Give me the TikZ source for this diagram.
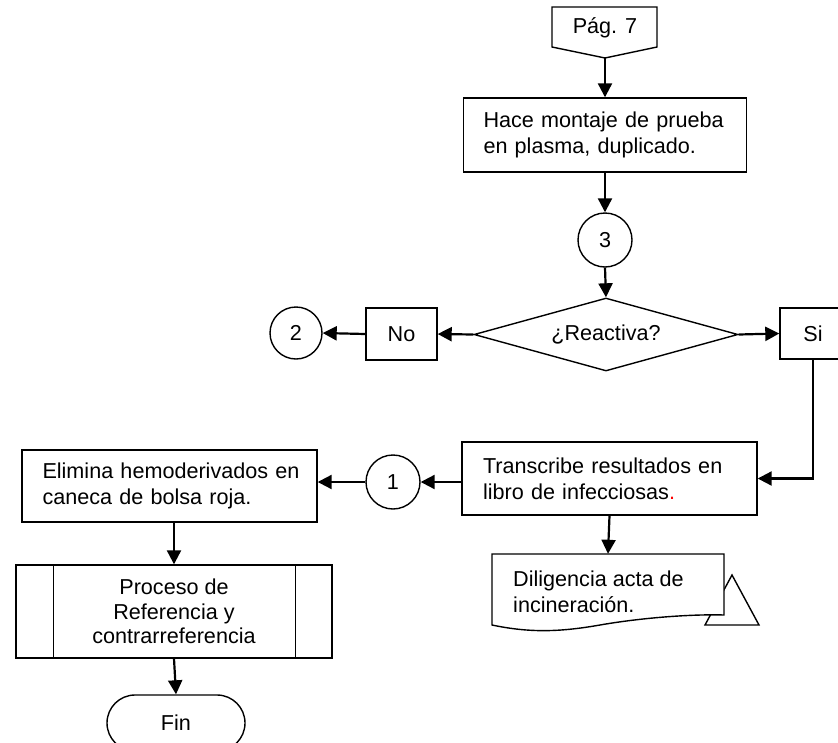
\documentclass[tikz,border=0pt]{standalone}
\usepackage{fontspec}
\setmainfont{Liberation Sans}
\usetikzlibrary{arrows.meta,shapes.geometric,shapes.misc}
\begin{document}
\begin{tikzpicture}[x=1pt,y=-1pt,
  every node/.style={font=\fontsize{21.6}{26}\selectfont},
  box/.style={draw, line width=1.4pt, rectangle, inner sep=0pt, fill=white},
  conn/.style={draw, circle, line width=1.4pt, inner sep=0pt, minimum size=54pt},
  shapeline/.style={line width=1.4pt, line join=miter},
  arr/.style={line width=2.2pt, -{Triangle[length=14pt,width=14pt]}}]
\clip (0,0) rectangle (838,742);
\fill[white] (0,0) rectangle (838,742);

% off-page connector
\draw[shapeline] (552,7) -- (657,7) -- (657,47) -- (605,58) -- (552,47) -- cycle;
\coordinate (pagtip) at (605,58);
\node (pag) at (605,28) {Pág. 7};

\node[box, minimum width=283pt, minimum height=74pt, text width=243pt, align=left] (hace) at (605,135)
  {\makebox[243pt][s]{Hace montaje de prueba}\\en plasma, duplicado.};

\node[conn] (c3) at (605,240) {3};

\node[draw, diamond, aspect=3.6, line width=1.4pt, inner sep=0pt, minimum width=264pt, minimum height=73pt] (dec) at (606,334.5) {¿Reactiva?};

\node[box, minimum width=71pt, minimum height=52pt] (no) at (401.5,334) {No};
\node[conn, minimum size=52pt] (c2) at (296,333) {2};
\node[box, minimum width=66pt, minimum height=51pt] (si) at (813,333.5) {Si};

\node[box, minimum width=295pt, minimum height=73pt, text width=253pt, align=left] (trans) at (609.5,478.5)
  {\makebox[253pt][s]{Transcribe resultados en}\\libro de infecciosas\textcolor{red}{.}};

\node[conn] (c1) at (393,482) {1};

\node[box, minimum width=295pt, minimum height=72pt, text width=254pt, align=left] (elim) at (169.5,486)
  {\makebox[254pt][s]{Elimina hemoderivados en}\\caneca de bolsa roja.};

\node[box, minimum width=316pt, minimum height=93pt, align=center, font=\fontsize{21.6}{24.5}\selectfont] (proc) at (174,611.5)
  {Proceso de\\Referencia y\\contrarreferencia};
\draw[line width=1.4pt] ([xshift=38pt]proc.north west) -- ([xshift=38pt]proc.south west);
\draw[line width=1.4pt] ([xshift=-37pt]proc.north east) -- ([xshift=-37pt]proc.south east);

\node[draw, rounded rectangle, line width=1.4pt, inner sep=0pt, minimum width=138pt, minimum height=56pt] (fin) at (176,723) {Fin};

% document with triangle behind
\draw[shapeline] (732,575) -- (759,625) -- (705,625) -- cycle;
\node[minimum width=232pt, minimum height=62pt, inner sep=0pt] (doc) at (608,585) {};
\draw[shapeline, fill=white] (492,554) -- (724,554) -- (724,615)
  .. controls (690,614) and (640,618) .. (600,625)
  .. controls (560,632) and (530,633) .. (492,625) -- cycle;
\node[anchor=west, align=left, inner sep=0pt] (doctext) at (513,591.5) {Diligencia acta de\\incineración.};

% connectors
\draw[arr] (pagtip) -- (hace.north);
\draw[arr] (hace.south) -- (c3.north);
\draw[arr] (c3.south) -- (dec.north);
\draw[arr] (dec.west) -- (no.east);
\draw[arr] (no.west) -- (c2.east);
\draw[arr] (dec.east) -- (si.west);
\draw[arr] (si.south) |- (trans.east);
\draw[arr] (c1.east -| trans.west) -- (c1.east);
\draw[arr] (c1.west) -- (c1.west -| elim.east);
\draw[arr] (elim.south -| proc.north) -- (proc.north);
\draw[arr] (proc.south) -- (fin.north);
\draw[arr] (trans.south) -- (doc.north);
\end{tikzpicture}
\end{document}
